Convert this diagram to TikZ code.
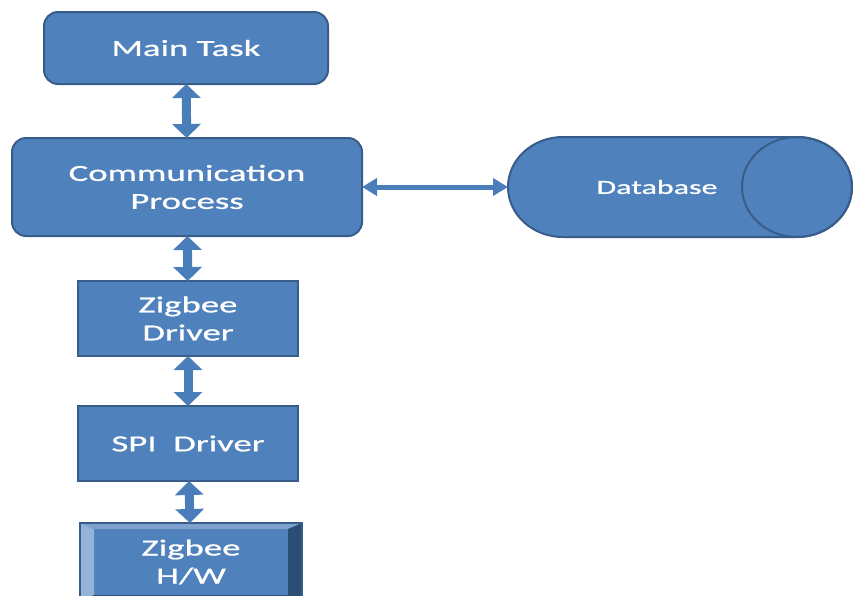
\documentclass[tikz,border=0pt]{standalone}
\usepackage{fontspec}
\setmainfont{Carlito}[FakeStretch=1.6,UprightFeatures={FakeBold=0.8}]
\usetikzlibrary{arrows.meta,calc}
\definecolor{boxfill}{HTML}{4F81BD}
\definecolor{boxline}{HTML}{385D8A}
\definecolor{arrowc}{HTML}{4A7EBB}
\definecolor{bevlight}{HTML}{95B3D7}
\definecolor{bevtop}{HTML}{7EA2D0}
\definecolor{bevdark}{HTML}{2C4D75}
\tikzset{
  box/.style={draw=boxline, line width=2pt, fill=boxfill, text=white, align=center,
    inner sep=0pt, outer sep=0pt, font=\fontsize{23}{28}\selectfont},
  rbox/.style={box, rounded corners=14pt},
  varrow/.style={draw=arrowc, line width=9pt, {Triangle[width=28pt,length=14pt]}-{Triangle[width=28pt,length=14pt]}},
  harrow/.style={draw=arrowc, line width=5pt, {Triangle[width=17pt,length=15pt]}-{Triangle[width=17pt,length=15pt]}},
}
\begin{document}
\begin{tikzpicture}[x=1pt,y=-1pt]
\useasboundingbox (0,0) rectangle (853,595);
\clip (0,0) rectangle (853,595);
\fill[white] (0,0) rectangle (853,595);
% boxes
\node[rbox, minimum width=284pt, minimum height=72pt] (main) at (186,48) {Main Task};
\node[rbox, minimum width=350pt, minimum height=98pt] (comm) at (187,187) {Communication\\Process};
\node[box, minimum width=220pt, minimum height=75pt] (zd) at (188,318.5) {Zigbee\\Driver};
\node[box, minimum width=220pt, minimum height=75pt] (spi) at (188,443.5) {SPI~ Driver};
\node[box, line width=0pt, draw=none, minimum width=222pt, minimum height=78pt] (hw) at (191,562) {};
% bevel of H/W
\fill[bevlight] (hw.north west) -- ($(hw.north west)+(14,6)$) -- ($(hw.south west)+(14,-6)$) -- (hw.south west) -- cycle;
\fill[bevtop] (hw.north west) -- (hw.north east) -- ($(hw.north east)+(-14,6)$) -- ($(hw.north west)+(14,6)$) -- cycle;
\fill[bevdark] (hw.north east) -- ($(hw.north east)+(-14,6)$) -- ($(hw.south east)+(-14,-6)$) -- (hw.south east) -- cycle;
\fill[bevdark] (hw.south west) -- ($(hw.south west)+(14,-6)$) -- ($(hw.south east)+(-14,-6)$) -- (hw.south east) -- cycle;
\draw[boxline, line width=1.5pt] (hw.north west) rectangle (hw.south east);
\node[text=white, align=center, font=\fontsize{23}{28}\selectfont] (hwt) at (hw.center) {Zigbee\\H/W};
% database
\node[inner sep=0pt, outer sep=0pt, minimum width=344pt, minimum height=100pt] (db) at (680,187) {};
\draw[boxline, line width=2pt, fill=boxfill]
  ($(db.north east)+(-55,0)$) -- ($(db.north west)+(55,0)$)
  arc[start angle=90, end angle=270, x radius=55pt, y radius=50pt]
  -- ($(db.south east)+(-55,0)$)
  arc[start angle=-90, end angle=90, x radius=55pt, y radius=50pt] -- cycle;
\draw[boxline, line width=2pt] ($(db.east)+(-55,0)$) ellipse [x radius=55pt, y radius=50pt];
\node[text=white, font=\fontsize{20}{24}\selectfont] (dbt) at (657,187) {Database};
% connectors
\draw[varrow] (main) -- (comm);
\draw[varrow] (comm) -- (zd);
\draw[varrow] (zd) -- (spi);
\draw[varrow] (spi) -- (hw);
\draw[harrow] (comm.east) -- (db.west);
\end{tikzpicture}
\end{document}
